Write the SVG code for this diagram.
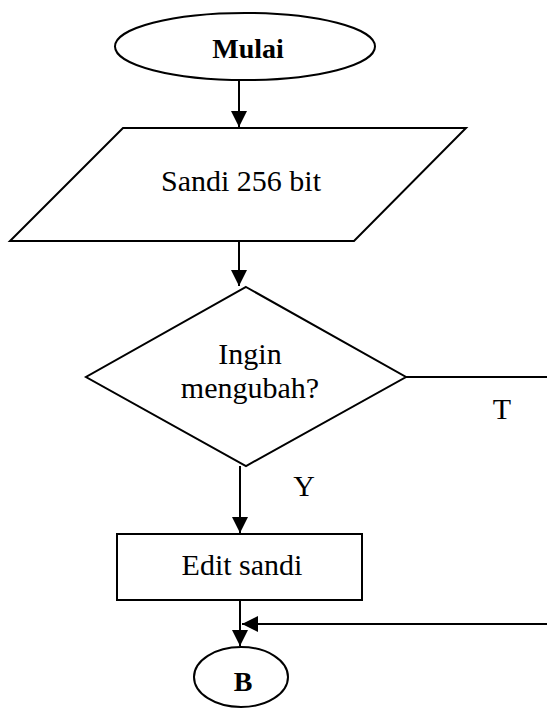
<svg xmlns="http://www.w3.org/2000/svg" width="547" height="709" viewBox="0 0 547 709">
  <style>
    .shape { fill: #ffffff; stroke: #000000; stroke-width: 2; }
    .line { fill: none; stroke: #000000; stroke-width: 2; }
    .label { font-family: "Liberation Serif", "Times New Roman", serif; font-size: 30px; fill: #000000; text-anchor: middle; }
    .bold { font-weight: bold; font-size: 28px; }
  </style>
  <defs>
    <marker id="arrow" viewBox="0 0 10 10" refX="10" refY="5" markerWidth="16" markerHeight="16" markerUnits="userSpaceOnUse" orient="auto">
      <path d="M0,0 L10,5 L0,10 z" fill="#000000"/>
    </marker>
  </defs>
  <rect width="547" height="709" fill="#ffffff"/>

  <g id="connectors">
    <line class="line" x1="239" y1="80" x2="239" y2="127" marker-end="url(#arrow)"/>
    <line class="line" x1="239" y1="241" x2="239" y2="286" marker-end="url(#arrow)"/>
    <line class="line" x1="240" y1="466" x2="240" y2="533" marker-end="url(#arrow)"/>
    <line class="line" x1="240" y1="600" x2="240" y2="646" marker-end="url(#arrow)"/>
    <polyline class="line" points="406,377 547,377"/>
    <line class="line" x1="547" y1="624" x2="242" y2="624" marker-end="url(#arrow)"/>
    <text class="label" x="502" y="419">T</text>
    <text class="label" x="304" y="496">Y</text>
  </g>

  <g id="mulai">
    <ellipse class="shape" cx="245" cy="46.5" rx="130" ry="33.5"/>
    <text class="label bold" x="248" y="58">Mulai</text>
  </g>

  <g id="sandi-256-bit">
    <polygon class="shape" points="123,128 466,128 354,241 10,241"/>
    <text class="label" x="241" y="191">Sandi 256 bit</text>
  </g>

  <g id="ingin-mengubah">
    <polygon class="shape" points="246,287 406,377 246,466 86,377"/>
    <text class="label" x="250" y="364">Ingin</text>
    <text class="label" x="250" y="398">mengubah?</text>
  </g>

  <g id="edit-sandi">
    <rect class="shape" x="117" y="534" width="245" height="66"/>
    <text class="label" x="242" y="575">Edit sandi</text>
  </g>

  <g id="b">
    <ellipse class="shape" cx="241" cy="677" rx="47" ry="30"/>
    <text class="label bold" x="243" y="691">B</text>
  </g>
</svg>
